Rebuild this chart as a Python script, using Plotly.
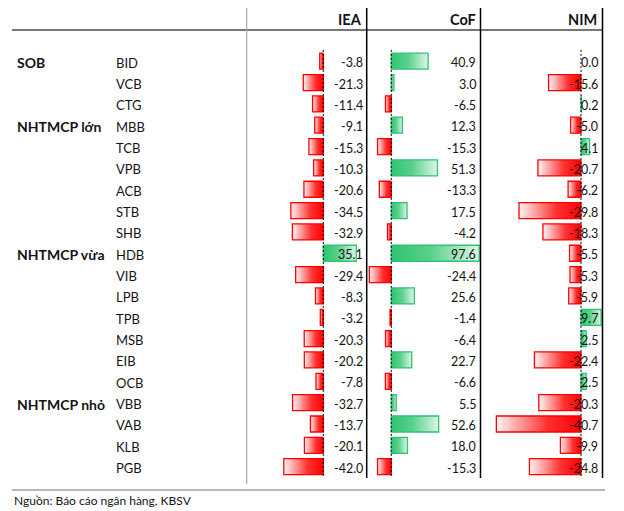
import plotly.graph_objects as go

# ---------------- data ----------------
banks = ["BID", "VCB", "CTG", "MBB", "TCB", "VPB", "ACB", "STB", "SHB", "HDB",
         "VIB", "LPB", "TPB", "MSB", "EIB", "OCB", "VBB", "VAB", "KLB", "PGB"]
group_labels = ["SOB", "NHTMCP lớn", "NHTMCP vừa", "NHTMCP nhỏ"]
group_first_bank = ["BID", "MBB", "HDB", "VBB"]
columns = ["IEA", "CoF", "NIM"]
iea = [-3.8, -21.3, -11.4, -9.1, -15.3, -10.3, -20.6, -34.5, -32.9, 35.1,
       -29.4, -8.3, -3.2, -20.3, -20.2, -7.8, -32.7, -13.7, -20.1, -42.0]
cof = [40.9, 3.0, -6.5, 12.3, -15.3, 51.3, -13.3, 17.5, -4.2, 97.6,
       -24.4, 25.6, -1.4, -6.4, 22.7, -6.6, 5.5, 52.6, 18.0, -15.3]
nim = [0.0, -15.6, 0.2, -5.0, 4.1, -20.7, -6.2, -29.8, -18.3, -5.5,
       -5.3, -5.9, 9.7, 2.5, -22.4, 2.5, -20.3, -40.7, -9.9, -24.8]
source_note = "Nguồn: Báo cáo ngân hàng, KBSV"

values = [iea, cof, nim]

# ---------------- layout geometry (page pixels) ----------------
PAGE_W, PAGE_H = 624, 511
OFF = 8  # page body margin
FW, FH = PAGE_W - OFF, PAGE_H - OFF


def X(px):
    return (px - OFF) / FW


def Y(px):
    return 1 - (px - OFF) / FH


# per column: left edge, right edge, zero position, px per unit, text right edge
col_geo = [
    (246.7, 366.7, 323.3, 0.94, 364.5),
    (366.7, 480.5, 391.3, 0.90, 478.0),
    (480.5, 602.5, 581.0, 2.08, 599.5),
]
row0_px, row_step = 61.2, 21.34
bar_half = 0.375

RED = "rgb(255,0,0)"
GREEN = "rgb(46,196,114)"
red_scale = [[0, "rgb(255,246,246)"], [0.6, "rgb(255,50,50)"], [1, RED]]
green_scale = [[0, GREEN], [0.45, "rgb(90,208,140)"], [1, "rgb(222,245,231)"]]

FONT = "Lato"
TXT = "#141414"

fig = go.Figure()
layout_axes = {}
shapes = []
annotations = []

n = len(banks)
for c, (name, vals, geo) in enumerate(zip(columns, values, col_geo)):
    left, right, zero, k, txt_right = geo
    ax = "x" if c == 0 else f"x{c+1}"
    axname = "xaxis" if c == 0 else f"xaxis{c+1}"
    layout_axes[axname] = dict(
        domain=[X(left), X(right)],
        range=[-(zero - left) / k, (right - zero) / k],
        visible=False, showgrid=False, zeroline=False, fixedrange=True,
        anchor="y",
    )
    for i, v in enumerate(vals):
        if v != 0:
            neg = v < 0
            fig.add_trace(go.Scatter(
                x=[0, v, v, 0, 0],
                y=[i - bar_half, i - bar_half, i + bar_half, i + bar_half, i - bar_half],
                xaxis=ax, yaxis="y",
                mode="lines", fill="toself",
                line=dict(color=RED if neg else GREEN, width=1.3),
                fillgradient=dict(type="horizontal",
                                  colorscale=red_scale if neg else green_scale),
                hoverinfo="skip", showlegend=False,
            ))
        annotations.append(dict(
            x=X(txt_right), xref="paper", xanchor="right",
            y=i, yref="y", yanchor="middle", yshift=-1.5,
            text=f"{v:.1f}", showarrow=False,
            font=dict(family=FONT, size=12.5, color=TXT),
        ))
    # dashed zero line
    shapes.append(dict(type="line", xref=ax, yref="y", x0=0, x1=0,
                       y0=-0.53, y1=n - 1 + 0.53,
                       line=dict(color="black", width=1, dash="2px,2px")))
    # header
    annotations.append(dict(
        x=X(txt_right - 0.5), xref="paper", xanchor="right",
        y=Y(20), yref="paper", yanchor="middle",
        text=f"<b>{name}</b>", showarrow=False,
        font=dict(family=FONT, size=14.5, color=TXT),
    ))

# row labels
for i, b in enumerate(banks):
    annotations.append(dict(
        x=X(114), xref="paper", xanchor="left",
        y=i, yref="y", yanchor="middle", yshift=-1.5,
        text=b, showarrow=False,
        font=dict(family=FONT, size=13, color=TXT),
    ))
for g, fb in zip(group_labels, group_first_bank):
    annotations.append(dict(
        x=X(15), xref="paper", xanchor="left",
        y=banks.index(fb), yref="y", yanchor="middle", yshift=-1.5,
        text=f"<b>{g}</b>", showarrow=False,
        font=dict(family=FONT, size=14, color=TXT),
    ))

# footer
annotations.append(dict(
    x=X(12), xref="paper", xanchor="left",
    y=Y(500), yref="paper", yanchor="middle",
    text=source_note, showarrow=False,
    font=dict(family=FONT, size=12, color=TXT),
))


# table frame lines
def hline(ypx, x0, x1, color, width):
    shapes.append(dict(type="line", xref="paper", yref="paper",
                       x0=X(x0), x1=X(x1), y0=Y(ypx), y1=Y(ypx),
                       line=dict(color=color, width=width)))


def vline(xpx, y0, y1, color, width):
    shapes.append(dict(type="line", xref="paper", yref="paper",
                       x0=X(xpx), x1=X(xpx), y0=Y(y0), y1=Y(y1),
                       line=dict(color=color, width=width)))


hline(3, 12, 607, "#a8a8a8", 1.5)
hline(30, 12, 603, "#4a4a4a", 1.5)
hline(490, 12, 605, "#a0a0a0", 1.5)
vline(246.7, 3, 484, "#a8a8a8", 1.2)
for lp, rp, *_ in col_geo:
    vline(rp, 3, 478, "#000000", 1.5)

r0 = row0_px - OFF
fig.update_layout(
    width=FW, height=FH,
    margin=dict(l=0, r=0, t=0, b=0),
    paper_bgcolor="white", plot_bgcolor="white",
    yaxis=dict(range=[(FH - r0) / row_step, -r0 / row_step],
               domain=[0, 1], visible=False, showgrid=False,
               zeroline=False, fixedrange=True),
    shapes=shapes,
    annotations=annotations,
    showlegend=False,
    **layout_axes,
)

fig.write_html("out.html")
